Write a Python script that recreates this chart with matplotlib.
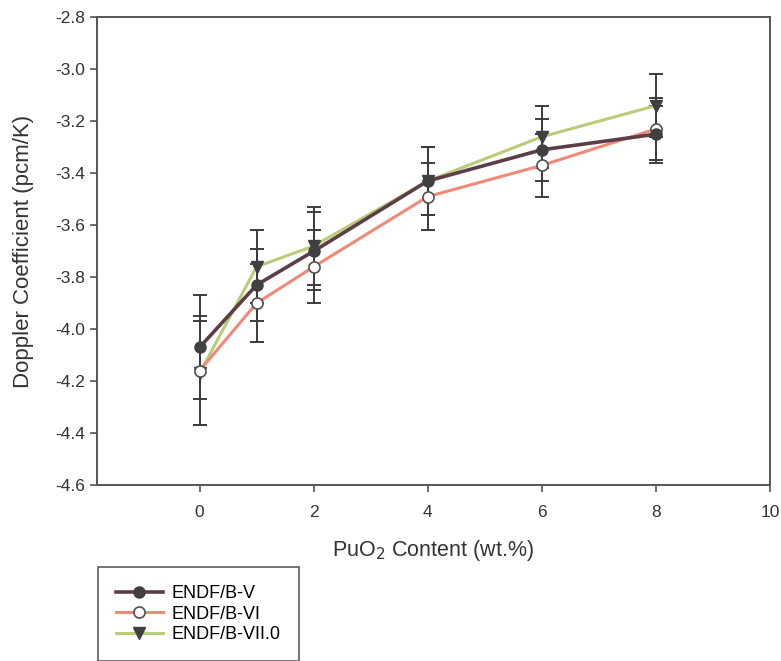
import numpy as np
import matplotlib
matplotlib.use("Agg")
import matplotlib.pyplot as plt

# PuO2 content (wt.%)
puo2 = [0, 1, 2, 4, 6, 8]

# Doppler coefficient (pcm/K) and error bars per library
endf_v = [-4.07, -3.83, -3.70, -3.43, -3.31, -3.25]
err_v = [0.20, 0.14, 0.15, 0.13, 0.12, 0.11]

endf_vi = [-4.16, -3.90, -3.76, -3.49, -3.37, -3.23]
err_vi = [0.21, 0.15, 0.14, 0.13, 0.12, 0.12]

endf_vii = [-4.17, -3.76, -3.68, -3.43, -3.26, -3.14]
err_vii = [0.20, 0.14, 0.15, 0.13, 0.12, 0.12]

labels = ["ENDF/B-V", "ENDF/B-VI", "ENDF/B-VII.0"]

plt.rcParams['font.family'] = ['Liberation Sans', 'DejaVu Sans']

fig = plt.figure(figsize=(7.81, 6.61), dpi=100)
ax = fig.add_axes([0.124, 0.266, 0.862, 0.708])

ebar_col = "#3c3c3c"
for y, e in [(endf_vii, err_vii), (endf_vi, err_vi), (endf_v, err_v)]:
    ax.errorbar(puo2, y, yerr=e, fmt="none", ecolor=ebar_col, elinewidth=1.4,
                capsize=5, capthick=1.4, zorder=2)

ax.plot(puo2, endf_vii, color="#b9cc78", lw=2.2, marker="v", ms=8, mfc="#404040", mec="#404040", label=labels[2], zorder=3)
ax.plot(puo2, endf_vi, color="#f08a78", lw=2.2, marker="o", ms=8, mfc="white", mec="#505050", mew=1.2, label=labels[1], zorder=4)
ax.plot(puo2, endf_v, color="#5e3e46", lw=2.6, marker="o", ms=8, mfc="#404040", mec="#404040", label=labels[0], zorder=5)

ax.set_xlim(-1.8, 10)
ax.set_ylim(-4.6, -2.8)
ax.set_xticks([0, 2, 4, 6, 8, 10])
ax.set_yticks(np.arange(-4.6, -2.79, 0.2))
ax.yaxis.set_major_formatter(plt.FuncFormatter(lambda v, p: f"{v:.1f}"))
ax.tick_params(direction="out", length=5, width=1.2, color="#555555", labelsize=12.5, labelcolor="#333333")
ax.tick_params(axis="x", pad=9)
for s in ax.spines.values():
    s.set_color("#555555")
    s.set_linewidth(1.4)

ax.set_xlabel("PuO$_2$ Content (wt.%)", fontsize=15.5, color="#333333", labelpad=13)
ax.set_ylabel("Doppler Coefficient (pcm/K)", fontsize=16, color="#333333", labelpad=15)

h, l = ax.get_legend_handles_labels()
order = [2, 1, 0]
leg = fig.legend([h[i] for i in order], [l[i] for i in order], loc="upper left",
                 bbox_to_anchor=(0.125, 0.142), fontsize=13, frameon=True, fancybox=False,
                 edgecolor="#333333", handlelength=2.6, handletextpad=0.5,
                 labelspacing=0.2, borderpad=1.0, borderaxespad=0)
leg.get_frame().set_linewidth(1.2)

fig.savefig("out.png", dpi=100)
